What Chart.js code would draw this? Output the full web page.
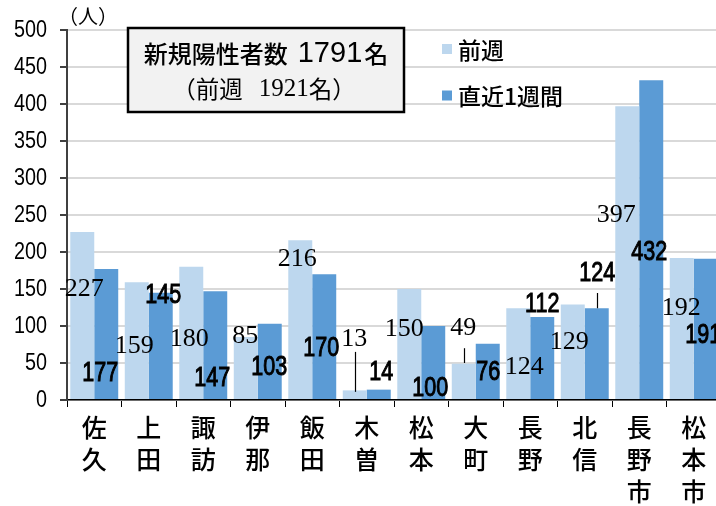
<!DOCTYPE html>
<html><head><meta charset="utf-8">
<script src="https://cdn.jsdelivr.net/npm/chart.js@4/dist/chart.umd.min.js"></script>
<style>
html,body{margin:0;padding:0;background:#fff;overflow:hidden;width:716px;height:506px}
#wrap{position:relative;width:721px;height:506px}
</style>
</head><body><div id="wrap"><canvas id="c" width="721" height="506"></canvas></div>
<script>
// ---- data ----
const categories = [['佐','久'],['上','田'],['諏','訪'],['伊','那'],['飯','田'],['木','曽'],['松','本'],['大','町'],['長','野'],['北','信'],['長','野','市'],['松','本','市']];
const prevWeek = [227,159,180,85,216,13,150,49,124,129,397,192];
const lastWeek = [177,145,147,103,170,14,100,76,112,124,432,191];
const seriesNames = ['前週','直近1週間'];
const yMin = 0, yMax = 500, yStep = 50;
const unitLabel = '（人）';
const totalNow = 1791, totalPrev = 1921;

// ---- styling / layout ----
const colPrev = '#BDD7EE', colNow = '#5B9BD5';
const CJK = "'Noto Sans CJK JP'";
const SANS = "'Liberation Sans'," + CJK + ",sans-serif";
const SERIF = "'Liberation Serif','DejaVu Serif'," + CJK + ",serif";
// label anchors: dx (px from category centre), at (value units on y)
const labelLayout = [
  {dx:[-10,-14.5,-14,-12.5,-15,-12.5,-17,-12.5,-6,-15.5,-23,-12.5], at:[150,73,82,86.5,190.5,82.5,96,97,44.5,78,250,124],
   font:"26px " + SERIF, sx:1, stroke:0},
  {dx:[6,14.5,9,11.5,9,14.5,9,12.5,12,12.5,10,9.5], at:[36.5,142,30,44.5,70,38,16,38,130,171.5,200,88],
   font:"28px " + SANS, sx:0.77, stroke:1}
];
const leaders = [{ds:0,idx:5,from:65,to:11},{ds:0,idx:7,from:70,to:50},{ds:1,idx:9,from:144.6,to:124}];

function drawSegments(ctx, segs, cx, cy){
  let total = 0;
  segs.forEach(s => { ctx.font = s[1]; s.w = ctx.measureText(s[0]).width; total += s.w + (s[2]||0); });
  let x = cx - total/2;
  ctx.textAlign = 'left';
  segs.forEach(s => { ctx.font = s[1]; ctx.fillText(s[0], x, cy); x += s.w + (s[2]||0); });
}

const overlay = {
  id:'overlay',
  afterDatasetsDraw(chart){
    const ctx = chart.ctx, xs = chart.scales.x, ys = chart.scales.y;
    ctx.save();
    ctx.fillStyle = '#000'; ctx.strokeStyle = '#000'; ctx.textAlign = 'center'; ctx.textBaseline = 'middle';
    chart.data.datasets.forEach((ds, di) => {
      const L = labelLayout[di];
      ctx.font = L.font;
      ds.data.forEach((v, j) => {
        const cx = xs.getPixelForValue(j) + L.dx[j];
        const cy = ys.getPixelForValue(L.at[j]);
        ctx.save();
        ctx.translate(cx, cy); ctx.scale(L.sx, 1);
        ctx.fillText(String(v), 0, 0);
        if (L.stroke) { ctx.lineWidth = L.stroke; ctx.strokeText(String(v), 0, 0); }
        ctx.restore();
      });
    });
    ctx.lineWidth = 1.2;
    leaders.forEach(l => {
      const bar = chart.getDatasetMeta(l.ds).data[l.idx];
      const x = Math.round(bar.x) + 0.5;
      ctx.beginPath();
      ctx.moveTo(x, ys.getPixelForValue(l.from));
      ctx.lineTo(x, ys.getPixelForValue(l.to));
      ctx.stroke();
    });
    ctx.restore();
  },
  afterDraw(chart){
    const ctx = chart.ctx, a = chart.chartArea, ys = chart.scales.y;
    ctx.save();
    ctx.fillStyle = '#000'; ctx.textBaseline = 'middle';
    // y tick labels (condensed)
    ctx.textAlign = 'right';
    ctx.font = "23px " + SANS;
    ys.ticks.forEach(t => {
      const y = ys.getPixelForValue(t.value);
      ctx.save(); ctx.translate(a.left - 20, y + 1); ctx.scale(0.86, 1);
      ctx.fillText(String(t.value), 0, 0); ctx.restore();
    });
    // unit label
    ctx.textAlign = 'center';
    ctx.font = "20px " + CJK;
    ctx.fillText(unitLabel, a.left + 21, 16);
    // text box
    const bx = a.left + 61, by = 28, bw = 276, bh = 84;
    ctx.fillStyle = '#f2f2f2'; ctx.fillRect(bx, by, bw, bh);
    ctx.strokeStyle = '#000'; ctx.lineWidth = 2.5; ctx.strokeRect(bx, by, bw, bh);
    ctx.fillStyle = '#000';
    const kf = "500 24px " + CJK;
    drawSegments(ctx, [['新規陽性者数', kf, 10], [String(totalNow), "29px " + SANS, 2], ['名', kf]], bx + bw/2, 54);
    drawSegments(ctx, [['（前週', "23.5px " + CJK, 16], [String(totalPrev), "25px " + SERIF, 0], ['名）', "23.5px " + CJK]], bx + bw/2 - 2, 89);
    // legend
    ctx.textAlign = 'left';
    ctx.font = "500 23px " + CJK;
    const lx = a.left + 375;
    chart.data.datasets.forEach((ds, i) => {
      const cy = 49 + i*46.5;
      ctx.fillStyle = ds.backgroundColor;
      ctx.fillRect(lx, cy - 5, 10, 10);
      ctx.fillStyle = '#000';
      ctx.fillText(ds.label, lx + 16, cy + 1);
    });
    ctx.restore();
  }
};

new Chart(document.getElementById('c'), {
  type:'bar',
  data:{
    labels: categories,
    datasets:[
      {label: seriesNames[0], data: prevWeek, backgroundColor: colPrev, categoryPercentage:0.88, barPercentage:1.0},
      {label: seriesNames[1], data: lastWeek, backgroundColor: colNow, categoryPercentage:0.88, barPercentage:1.0}
    ]
  },
  options:{
    responsive:false, animation:false, devicePixelRatio:1,
    layout:{padding:{top:30,right:0,left:0,bottom:0}},
    plugins:{legend:{display:false}, tooltip:{enabled:false}},
    scales:{
      x:{
        grid:{display:true, drawOnChartArea:false, drawTicks:true, tickLength:7, tickColor:'#000', offset:true},
        border:{color:'#000', width:1.5},
        ticks:{color:'#000', padding:4, maxRotation:0, autoSkip:false,
               font:{family:"'Noto Sans CJK JP'", size:25, weight:500, lineHeight:1.28}},
        afterFit(s){ s.height = 106; }
      },
      y:{
        min:yMin, max:yMax,
        grid:{color:'#d9d9d9', lineWidth:2, tickLength:7, tickColor:'#404040'},
        border:{color:'#404040', width:2},
        ticks:{stepSize:yStep, display:false},
        afterFit(s){ s.width = 67; }
      }
    }
  },
  plugins:[overlay]
});
</script></body></html>
